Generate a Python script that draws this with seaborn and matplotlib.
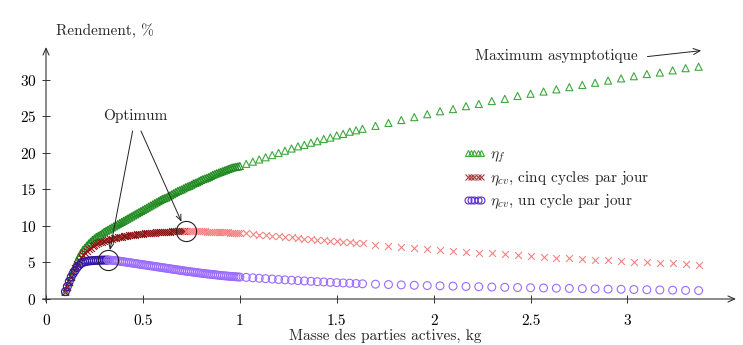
import matplotlib
matplotlib.use("Agg")
import matplotlib.pyplot as plt
from matplotlib.lines import Line2D
import seaborn as sns
import pandas as pd

# --- data -----------------------------------------------------------------
# finely sampled range (0.1 .. 1 kg)
x_fine = [0.10, 0.11, 0.12, 0.13, 0.14, 0.15, 0.16, 0.17, 0.18, 0.19,
          0.20, 0.21, 0.22, 0.23, 0.24, 0.25, 0.26, 0.27, 0.28, 0.29,
          0.30, 0.31, 0.32, 0.33, 0.34, 0.35, 0.36, 0.37, 0.38, 0.39,
          0.40, 0.41, 0.42, 0.43, 0.44, 0.45, 0.46, 0.47, 0.48, 0.49,
          0.50, 0.51, 0.52, 0.53, 0.54, 0.55, 0.56, 0.57, 0.58, 0.59,
          0.60, 0.61, 0.62, 0.63, 0.64, 0.65, 0.66, 0.67, 0.68, 0.69,
          0.70, 0.71, 0.72, 0.73, 0.74, 0.75, 0.76, 0.77, 0.78, 0.79,
          0.80, 0.81, 0.82, 0.83, 0.84, 0.85, 0.86, 0.87, 0.88, 0.89,
          0.90, 0.91, 0.92, 0.93, 0.94, 0.95, 0.96, 0.97, 0.98, 0.99,
          1.00]
eta_f_fine = [1.0, 1.6, 2.3, 3.0, 3.8, 4.5, 5.2, 5.8, 6.3, 6.7,
              7.0, 7.3, 7.6, 7.85, 8.1, 8.3, 8.5, 8.65, 8.8, 9.0,
              9.2, 9.35, 9.5, 9.65, 9.8, 9.95, 10.1, 10.25, 10.4, 10.55,
              10.7, 10.85, 11.0, 11.15, 11.3, 11.45, 11.6, 11.75, 11.9, 12.05,
              12.2, 12.35, 12.5, 12.65, 12.8, 12.95, 13.1, 13.25, 13.4, 13.55,
              13.7, 13.8, 13.9, 14.05, 14.2, 14.35, 14.5, 14.65, 14.8, 14.9,
              15.0, 15.15, 15.3, 15.4, 15.5, 15.65, 15.8, 15.9, 16.0, 16.15,
              16.3, 16.4, 16.5, 16.6, 16.7, 16.85, 17.0, 17.1, 17.2, 17.3,
              17.4, 17.5, 17.6, 17.7, 17.8, 17.9, 18.0, 18.05, 18.1, 18.15,
              18.2]
eta_cv5_fine = [1.0, 1.6, 2.3, 3.0, 3.7, 4.3, 4.8, 5.3, 5.7, 6.0,
                6.3, 6.55, 6.8, 7.0, 7.2, 7.35, 7.5, 7.63, 7.75, 7.85,
                7.95, 8.03, 8.1, 8.18, 8.25, 8.31, 8.37, 8.43, 8.48, 8.53,
                8.58, 8.63, 8.67, 8.71, 8.75, 8.79, 8.82, 8.85, 8.88, 8.91,
                8.94, 8.97, 8.99, 9.02, 9.04, 9.07, 9.09, 9.11, 9.13, 9.15,
                9.17, 9.19, 9.21, 9.23, 9.24, 9.26, 9.27, 9.28, 9.29, 9.30,
                9.31, 9.32, 9.32, 9.32, 9.31, 9.31, 9.30, 9.30, 9.29, 9.28,
                9.27, 9.26, 9.25, 9.24, 9.23, 9.22, 9.21, 9.20, 9.19, 9.18,
                9.17, 9.15, 9.14, 9.12, 9.11, 9.09, 9.08, 9.06, 9.05, 9.03,
                9.02]
eta_cv1_fine = [1.0, 1.7, 2.4, 3.0, 3.5, 3.9, 4.3, 4.6, 4.85, 5.0,
                5.1, 5.15, 5.2, 5.23, 5.25, 5.27, 5.29, 5.3, 5.31, 5.32,
                5.33, 5.33, 5.33, 5.32, 5.3, 5.28, 5.25, 5.22, 5.18, 5.14,
                5.1, 5.06, 5.02, 4.98, 4.94, 4.9, 4.86, 4.82, 4.78, 4.74,
                4.7, 4.66, 4.62, 4.58, 4.54, 4.5, 4.46, 4.42, 4.38, 4.34,
                4.3, 4.26, 4.22, 4.18, 4.14, 4.1, 4.06, 4.02, 3.98, 3.94,
                3.9, 3.86, 3.82, 3.78, 3.75, 3.71, 3.68, 3.64, 3.61, 3.57,
                3.54, 3.5, 3.47, 3.44, 3.41, 3.38, 3.35, 3.32, 3.29, 3.26,
                3.23, 3.2, 3.18, 3.15, 3.13, 3.1, 3.08, 3.06, 3.04, 3.02,
                3.0]

# medium sampling (1 .. 1.63 kg)
x_mid = [1.033, 1.067, 1.100, 1.133, 1.167, 1.200, 1.233, 1.267, 1.300, 1.333,
         1.367, 1.400, 1.433, 1.467, 1.500, 1.533, 1.567, 1.600, 1.633]
eta_f_mid = [18.5, 18.8, 19.1, 19.4, 19.7, 20.0, 20.3, 20.6, 20.9, 21.1,
             21.4, 21.6, 21.9, 22.1, 22.4, 22.6, 22.9, 23.1, 23.3]
eta_cv5_mid = [8.98, 8.90, 8.82, 8.74, 8.66, 8.58, 8.50, 8.42, 8.34, 8.26,
               8.18, 8.10, 8.03, 7.96, 7.89, 7.82, 7.75, 7.68, 7.61]
eta_cv1_mid = [2.96, 2.90, 2.84, 2.78, 2.73, 2.67, 2.62, 2.57, 2.52, 2.47,
               2.42, 2.37, 2.33, 2.28, 2.24, 2.20, 2.16, 2.12, 2.08]

# coarse sampling (1.7 .. 3.37 kg)
x_coarse = [1.700, 1.767, 1.833, 1.900, 1.967, 2.033, 2.100, 2.167, 2.233, 2.300,
            2.367, 2.433, 2.500, 2.567, 2.633, 2.700, 2.767, 2.833, 2.900, 2.967,
            3.033, 3.100, 3.167, 3.233, 3.300, 3.367]
eta_f_coarse = [23.7, 24.1, 24.5, 24.9, 25.3, 25.7, 26.0, 26.4, 26.7, 27.1,
                27.4, 27.8, 28.1, 28.4, 28.7, 29.0, 29.3, 29.6, 29.9, 30.2,
                30.5, 30.8, 31.0, 31.3, 31.6, 31.8]
eta_cv5_coarse = [7.45, 7.31, 7.17, 7.03, 6.90, 6.76, 6.60, 6.47, 6.35, 6.23,
                  6.11, 6.00, 5.89, 5.78, 5.67, 5.57, 5.47, 5.38, 5.29, 5.20,
                  5.11, 5.03, 4.95, 4.87, 4.79, 4.71]
eta_cv1_coarse = [2.03, 1.98, 1.93, 1.88, 1.84, 1.80, 1.76, 1.72, 1.68, 1.64,
                  1.60, 1.57, 1.54, 1.51, 1.48, 1.45, 1.42, 1.39, 1.36, 1.33,
                  1.30, 1.27, 1.24, 1.21, 1.18, 1.15]

# optima (index into the fine arrays)
opt_cv5 = 62   # x = 0.72
opt_cv1 = 22   # x = 0.32

label_f = r"$\eta_f$"
label_cv5 = r"$\eta_{cv}$, cinq cycles par jour"
label_cv1 = r"$\eta_{cv}$, un cycle par jour"
xlabel = "Masse des parties actives, kg"
ylabel = "Rendement, %"
xticks = [0, 0.5, 1, 1.5, 2, 2.5, 3]
xticklabels = ["0", "0.5", "1", "1.5", "2", "2.5", "3"]
yticks = [0, 5, 10, 15, 20, 25, 30]

# --- colours ----------------------------------------------------------------
GREEN_D, GREEN_L = "#1f8a1f", "#3da83d"
RED_D, RED_L = "#8c1414", "#f48484"
PURP_D, PURP_L = "#3414a4", "#9b6bff"
LEG_RED, LEG_PURP = "#a33a3a", "#5a2ccc"

sns.set_theme(style="white")
plt.rcParams["font.family"] = ["cmr10", "DejaVu Serif"]
plt.rcParams["mathtext.fontset"] = "cm"
plt.rcParams["axes.formatter.use_mathtext"] = True
FS = 11

fig = plt.figure(figsize=(7.43, 3.45), dpi=100)
ax = fig.add_axes([46 / 743, 46 / 345, 690 / 743, 252 / 345])
XMAX, YMAX = 3.56, 34.5


def marks(x, y, marker, color, s, lw=0.8):
    df = pd.DataFrame({"x": x, "y": y})
    if marker == "x":
        sns.scatterplot(data=df, x="x", y="y", marker="x", color=color, s=s,
                        linewidth=lw, ax=ax, zorder=3, clip_on=False)
    else:
        sns.scatterplot(data=df, x="x", y="y", marker=marker, s=s,
                        facecolor="none", edgecolor=color, linewidth=lw,
                        ax=ax, zorder=3, clip_on=False)


S_TRI, S_X, S_CIR = 26, 24, 32

# eta_f
marks(x_fine, eta_f_fine, "^", GREEN_D, S_TRI)
marks(x_mid + x_coarse, eta_f_mid + eta_f_coarse, "^", GREEN_L, S_TRI)

# eta_cv, five cycles
marks(x_fine[:opt_cv5 + 1], eta_cv5_fine[:opt_cv5 + 1], "x", RED_D, S_X)
marks(x_fine[opt_cv5:], eta_cv5_fine[opt_cv5:], "x", RED_L, S_X)
marks(x_mid + x_coarse, eta_cv5_mid + eta_cv5_coarse, "x", RED_L, S_X)

# eta_cv, one cycle
marks(x_fine[:opt_cv1 + 1], eta_cv1_fine[:opt_cv1 + 1], "o", PURP_D, S_CIR)
marks(x_fine[opt_cv1:], eta_cv1_fine[opt_cv1:], "o", PURP_L, S_CIR)
marks(x_mid + x_coarse, eta_cv1_mid + eta_cv1_coarse, "o", PURP_L, S_CIR)

# circles around the optima
opt_x = [x_fine[opt_cv1], x_fine[opt_cv5]]
opt_y = [eta_cv1_fine[opt_cv1], eta_cv5_fine[opt_cv5]]
ax.plot(opt_x, opt_y, linestyle="none", marker="o", ms=14.5, mfc="none",
        mec="#222222", mew=0.8, zorder=5)

arrow_kw = dict(arrowstyle="->,head_length=0.35,head_width=0.15",
                color="#222222", lw=0.7, shrinkA=0, shrinkB=7.3)
ax.text(0.459, 25.1, "Optimum", ha="center", va="center", fontsize=FS)
ax.annotate("", xy=(opt_x[0], opt_y[0]), xytext=(0.447, 23.0),
            arrowprops=arrow_kw, zorder=6)
ax.annotate("", xy=(opt_x[1], opt_y[1]), xytext=(0.490, 23.0),
            arrowprops=arrow_kw, zorder=6)

ax.text(2.634, 33.3, "Maximum asymptotique", ha="center", va="center", fontsize=FS)
ax.annotate("", xy=(3.38, 34.0), xytext=(3.103, 33.19),
            arrowprops=dict(arrowstyle="->,head_length=0.4,head_width=0.18",
                            color="#222222", lw=0.7, shrinkA=0, shrinkB=0),
            annotation_clip=False)

# axes with arrow tips
ax.set_xlim(0, XMAX)
ax.set_ylim(0, YMAX)
for sp in ax.spines.values():
    sp.set_visible(False)
axis_kw = dict(arrowstyle="->,head_length=0.4,head_width=0.18",
               color="#333333", lw=0.8, shrinkA=0, shrinkB=0)
ax.annotate("", xy=(1.0, 0), xytext=(-0.005, 0), xycoords="axes fraction",
            textcoords="axes fraction", arrowprops=axis_kw, annotation_clip=False)
ax.annotate("", xy=(0, 1.0), xytext=(0, -0.01), xycoords="axes fraction",
            textcoords="axes fraction", arrowprops=axis_kw, annotation_clip=False)

ax.set_xticks(xticks)
ax.set_xticklabels(xticklabels)
ax.set_yticks(yticks)
ax.tick_params(axis="both", direction="inout", length=6, width=0.7,
               color="#333333", labelsize=FS, labelcolor="black")
ax.tick_params(axis="x", pad=8)
ax.tick_params(axis="y", pad=4)
ax.tick_params(left=True, bottom=True)
ax.set_xlabel("")
ax.set_ylabel("")
ax.grid(False)

fig.text(105 / 743, 1 - 31 / 345, ylabel, ha="center", va="center", fontsize=FS)
fig.text(385 / 743, 2 / 345, xlabel, ha="center", va="bottom", fontsize=FS)

# legend
handles = [
    Line2D([], [], linestyle="none", marker="^", ms=4.5, mfc="none", mec=GREEN_L, mew=0.8),
    Line2D([], [], linestyle="none", marker="x", ms=4, color=LEG_RED, mew=0.8),
    Line2D([], [], linestyle="none", marker="o", ms=5, mfc="none", mec=LEG_PURP, mew=0.8),
]
leg = ax.legend(handles, [label_f, label_cv5, label_cv1], numpoints=5,
                handlelength=1.5, handletextpad=0.3, labelspacing=0.3,
                frameon=False, fontsize=FS, loc="upper left",
                bbox_to_anchor=(463 / 743, 1 - 148 / 345),
                bbox_transform=fig.transFigure, borderaxespad=0, borderpad=0)

fig.savefig("out.png", dpi=100)
